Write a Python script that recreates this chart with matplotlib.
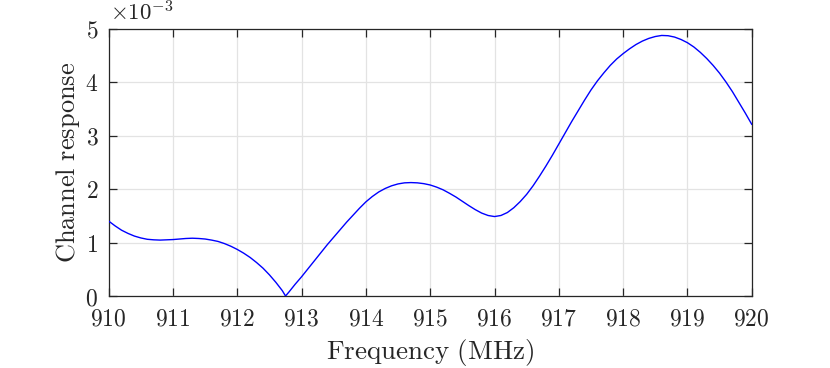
import numpy as np
import matplotlib
matplotlib.use("Agg")
import matplotlib.pyplot as plt
from matplotlib.ticker import FuncFormatter

plt.rcParams['mathtext.fontset'] = 'cm'
plt.rcParams['font.family'] = ['DejaVu Serif']

# Frequency (MHz) and channel response (x 1e-3)
freq = [910.0, 910.1, 910.2, 910.3, 910.4, 910.5, 910.6, 910.7, 910.8, 910.9,
        911.0, 911.1, 911.2, 911.3, 911.4, 911.5, 911.6, 911.7, 911.8, 911.9,
        912.0, 912.1, 912.2, 912.3, 912.4, 912.5, 912.6, 912.7, 912.75, 912.8, 912.9,
        913.0, 913.1, 913.2, 913.3, 913.4, 913.5, 913.6, 913.7, 913.8, 913.9,
        914.0, 914.1, 914.2, 914.3, 914.4, 914.5, 914.6, 914.7, 914.8, 914.9,
        915.0, 915.1, 915.2, 915.3, 915.4, 915.5, 915.6, 915.7, 915.8, 915.9,
        916.0, 916.1, 916.2, 916.3, 916.4, 916.5, 916.6, 916.7, 916.8, 916.9,
        917.0, 917.1, 917.2, 917.3, 917.4, 917.5, 917.6, 917.7, 917.8, 917.9,
        918.0, 918.1, 918.2, 918.3, 918.4, 918.5, 918.6, 918.7, 918.8, 918.9,
        919.0, 919.1, 919.2, 919.3, 919.4, 919.5, 919.6, 919.7, 919.8, 919.9,
        920.0]
response = [1.40, 1.31, 1.23, 1.17, 1.12, 1.085, 1.06, 1.05, 1.045, 1.05,
            1.055, 1.065, 1.075, 1.08, 1.075, 1.065, 1.045, 1.02, 0.98, 0.93,
            0.87, 0.80, 0.72, 0.625, 0.52, 0.395, 0.255, 0.10, 0.0, 0.07, 0.22,
            0.36, 0.51, 0.66, 0.81, 0.96, 1.10, 1.24, 1.38, 1.51, 1.64,
            1.76, 1.86, 1.945, 2.01, 2.06, 2.095, 2.115, 2.12, 2.115, 2.10,
            2.075, 2.035, 1.985, 1.92, 1.85, 1.77, 1.69, 1.615, 1.55, 1.505,
            1.485, 1.505, 1.56, 1.65, 1.765, 1.90, 2.06, 2.24, 2.43, 2.63,
            2.84, 3.05, 3.26, 3.46, 3.66, 3.85, 4.02, 4.17, 4.31, 4.43,
            4.53, 4.62, 4.70, 4.765, 4.815, 4.85, 4.87, 4.865, 4.84, 4.795,
            4.735, 4.655, 4.555, 4.44, 4.31, 4.165, 4.00, 3.82, 3.62, 3.42,
            3.21]

xticks = [910, 911, 912, 913, 914, 915, 916, 917, 918, 919, 920]
yticks = [0, 1, 2, 3, 4, 5]

fig = plt.figure(figsize=(8.30, 3.68), dpi=100)
ax = fig.add_axes([108.7/830, 1-296/368, (751.7-108.7)/830, (296-28.5)/368])

ax.plot(freq, np.array(response) * 1e-3, color=(0, 0, 1), lw=1.0, zorder=3)

ax.set_xlim(910, 920)
ax.set_ylim(0, 5e-3)
ax.set_xticks(xticks)
ax.set_yticks([v * 1e-3 for v in yticks])
ax.xaxis.set_major_formatter(FuncFormatter(lambda v, p: r'$\mathrm{%d}$' % round(v)))
ax.yaxis.set_major_formatter(FuncFormatter(lambda v, p: r'$\mathrm{%d}$' % round(v * 1e3)))

ax.grid(True, color='#e3e3e3', lw=0.9, zorder=0)
ax.set_axisbelow(True)
for s in ax.spines.values():
    s.set_color('#262626')
    s.set_linewidth(0.9)
ax.tick_params(direction='in', length=6, width=0.9, color='#262626',
               top=True, right=True, labelsize=17, labelcolor='#262626')
ax.tick_params(axis='x', pad=8.5)
ax.tick_params(axis='y', pad=7.5)

ax.set_xlabel(r'$\mathrm{Frequency\ (MHz)}$', fontsize=19.5, color='#262626', labelpad=4.5)
ax.set_ylabel(r'$\mathrm{Channel\ response}$', fontsize=19, color='#262626', labelpad=2)
fig.text(110/830, 1-13/368, r'$\times 10^{-3}$', fontsize=16.5, color='#262626',
         ha='left', va='center')

fig.savefig('out.png', dpi=100)
